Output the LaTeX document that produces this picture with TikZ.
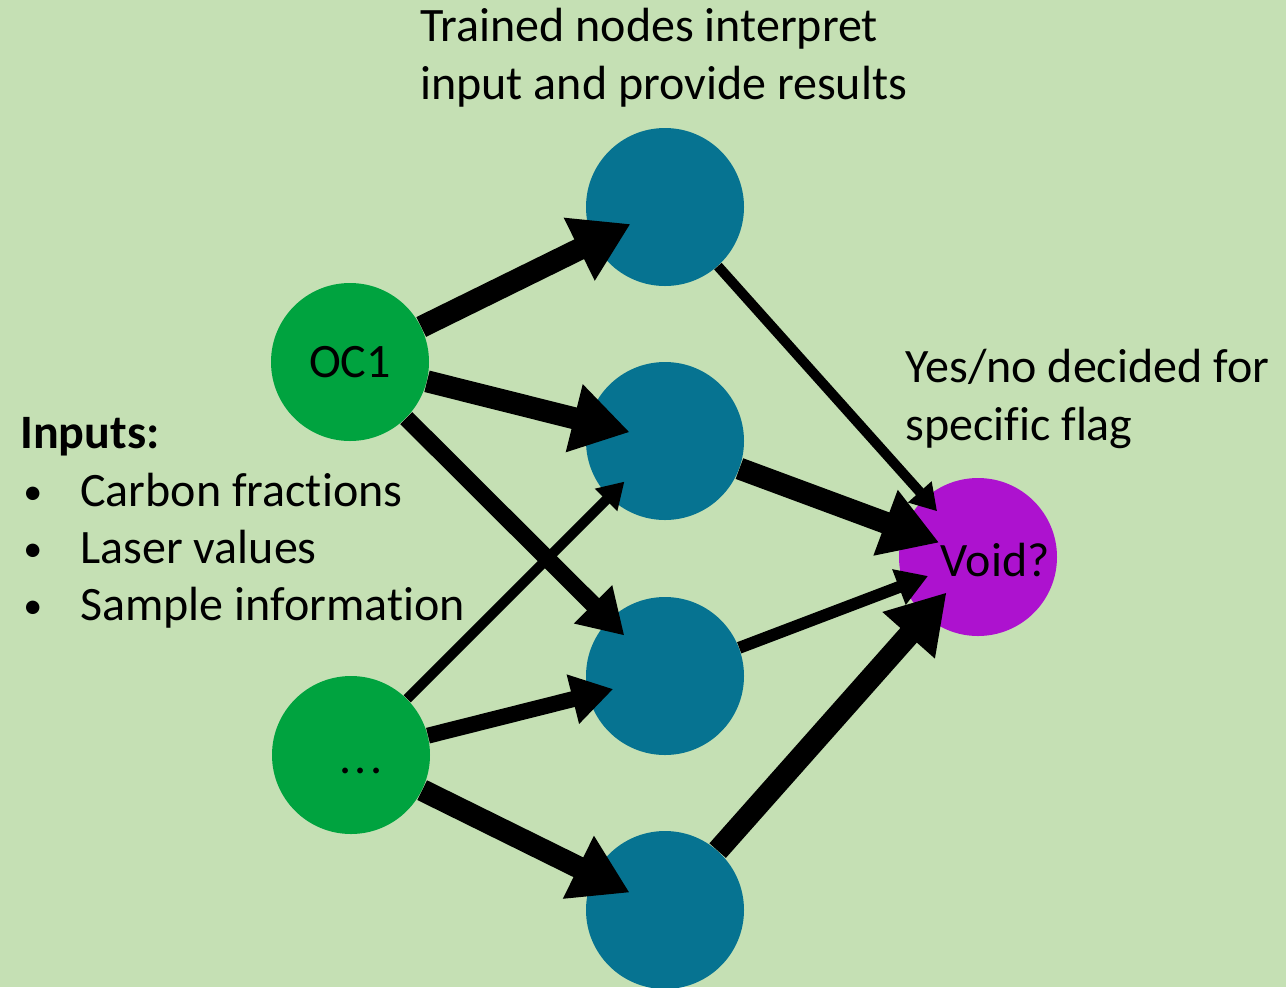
\documentclass[tikz,border=0pt]{standalone}
\usepackage{fontspec}
\setmainfont{Carlito}[Ligatures=NoCommon]
\usetikzlibrary{arrows.meta}
\definecolor{slidebg}{HTML}{C5E0B4}
\definecolor{ingreen}{HTML}{00A33F}
\definecolor{hidblue}{HTML}{067391}
\definecolor{outpurple}{HTML}{AD12CF}
\begin{document}
\begin{tikzpicture}[x=0.5pt,y=-0.5pt,
  neuron/.style={circle,minimum size=79pt,inner sep=0pt,fill=#1,
    font=\fontsize{24}{29}\selectfont},
  link/.style={line width=#1,-{Triangle[length=0pt 2.6,width=0pt 3]}},
  txt/.style={anchor=base west,inner sep=0pt,font=\fontsize{24}{29}\selectfont}]
\fill[slidebg] (0,0) rectangle (1286,987);
\useasboundingbox (0,0) rectangle (1286,987);
% neurons
\node[neuron=ingreen] (oc1) at (350,362) {OC1};
\node[neuron=ingreen,label={[font=\fontsize{24}{29}\selectfont,xshift=5pt,yshift=-8pt]center:.\kern1.5pt.\kern1.5pt.}] (more) at (351,755) {};
\node[neuron=hidblue] (h1) at (665,207) {};
\node[neuron=hidblue] (h2) at (665,441) {};
\node[neuron=hidblue] (h3) at (665,676) {};
\node[neuron=hidblue] (h4) at (665,910) {};
\node[neuron=outpurple,label={[font=\fontsize{24}{29}\selectfont,xshift=8.5pt,yshift=-1.5pt]center:Void?}] (void) at (978,557) {};
% connections
\draw[link=11pt,shorten >=-20.5pt] (oc1) -- (h1);
\draw[link=11pt,shorten >=-21.5pt] (oc1) -- (h2);
\draw[link=8.5pt,shorten >=-11pt] (oc1) -- (h3);
\draw[link=5pt,shorten >=-11pt] (more) -- (h2);
\draw[link=8pt,shorten >=-13pt] (more) -- (h3);
\draw[link=11pt,shorten >=-20pt] (more) -- (h4);
\draw[link=5pt,shorten >=-9pt] (h1) -- (void);
\draw[link=11pt,shorten >=-19pt] (h2) -- (void);
\draw[link=6pt,shorten >=-13pt] (h3) -- (void);
\draw[link=11pt,shorten >=-16pt] (h4) -- (void);
% texts
\node[txt] (top1) at (420,41) {Trained nodes interpret};
\node[txt] (top2) at (420,99) {input and provide results};
\node[txt] (res1) at (905,382) {Yes/no decided for};
\node[txt] (res2) at (905,440) {specific flag};
\node[txt] (inp) at (20,448) {\bfseries Inputs:};
\node[txt,font=\fontsize{19}{29}\selectfont] (dot1) at (23,504) {\textbullet};
\node[txt,font=\fontsize{19}{29}\selectfont] (dot2) at (23,561) {\textbullet};
\node[txt,font=\fontsize{19}{29}\selectfont] (dot3) at (23,618) {\textbullet};
\node[txt] (in1) at (80,506) {Carbon fractions};
\node[txt] (in2) at (80,563) {Laser values};
\node[txt] (in3) at (80,620) {Sample information};
\end{tikzpicture}
\end{document}
